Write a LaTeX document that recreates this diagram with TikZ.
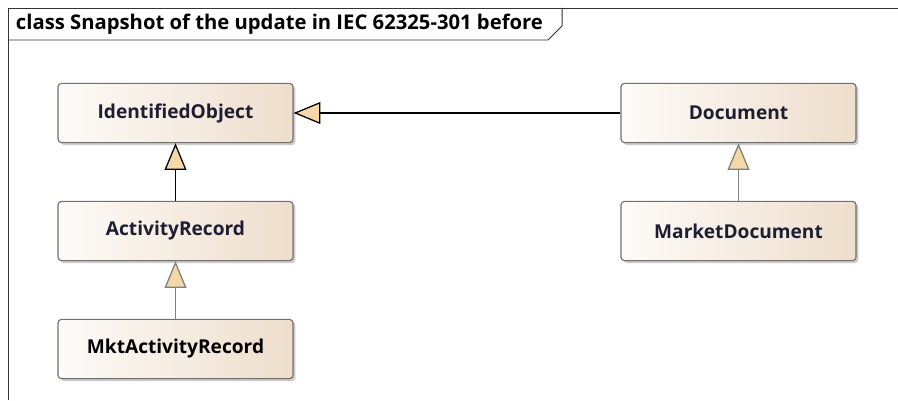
\documentclass[tikz,border=0pt]{standalone}
\usepackage{fontspec}
\setmainfont{Open Sans}
\usetikzlibrary{arrows.meta,shadows}
\definecolor{umlfill}{RGB}{246,216,168}
\definecolor{boxleft}{RGB}{253,251,248}
\definecolor{boxright}{RGB}{238,222,204}
\definecolor{boxline}{RGB}{112,112,112}
\definecolor{classtext}{RGB}{30,30,50}
\tikzset{
  classbox/.style={draw=boxline, line width=0.8pt, rounded corners=2.5pt,
    left color=boxleft, right color=boxright,
    minimum width=5.875cm, minimum height=1.48cm,
    font=\fontsize{13.6}{15}\selectfont\bfseries, text=classtext,
    drop shadow={shadow xshift=0.06cm, shadow yshift=-0.06cm, fill=black!45, opacity=0.45}},
  gen/.style={line width=0.9pt, -{Triangle[length=19pt, width=15.5pt, fill=umlfill, line width=0.9pt]}},
}

\begin{document}
\begin{tikzpicture}[x=0.025cm, y=-0.025cm]
			%%%%% START %%%%%
			
			\fill[white] (0, 0) rectangle (898, 400);
			\useasboundingbox (0, 0) rectangle (898, 400);
			
			\draw[line width=0.7pt, color=black!80] (8, 400) -- (8, 8) -- (898, 8);
			\draw[line width=0.7pt, color=black!80] (8, 40) -- (548, 40) -- (562, 26) -- (562, 8);
			\node[anchor=west, font=\fontsize{14.4}{16}\selectfont\bfseries] (title) at (11, 24) {class Snapshot of the update in IEC 62325-301 before};
			
			\node[classbox] (ident) at (175.5, 113) {IdentifiedObject};
			\node[classbox] (act) at (175.5, 231) {ActivityRecord};
			\node[classbox, text=black] (mkt) at (175.5, 349) {MktActivityRecord};
			
			\node[classbox] (doc) at (738.5, 113) {Document};
			\node[classbox] (mdoc) at (738.5, 231) {MarketDocument};
			
			\draw[gen, color=black] (doc) -- (ident);
			\draw[gen, color=black] (act) -- (ident);
			\draw[gen, color=black!50] (mkt) -- (act);
			\draw[gen, color=black!50] (mdoc) -- (doc);
			
			%%%%% END %%%%%
		\end{tikzpicture}
\end{document}
